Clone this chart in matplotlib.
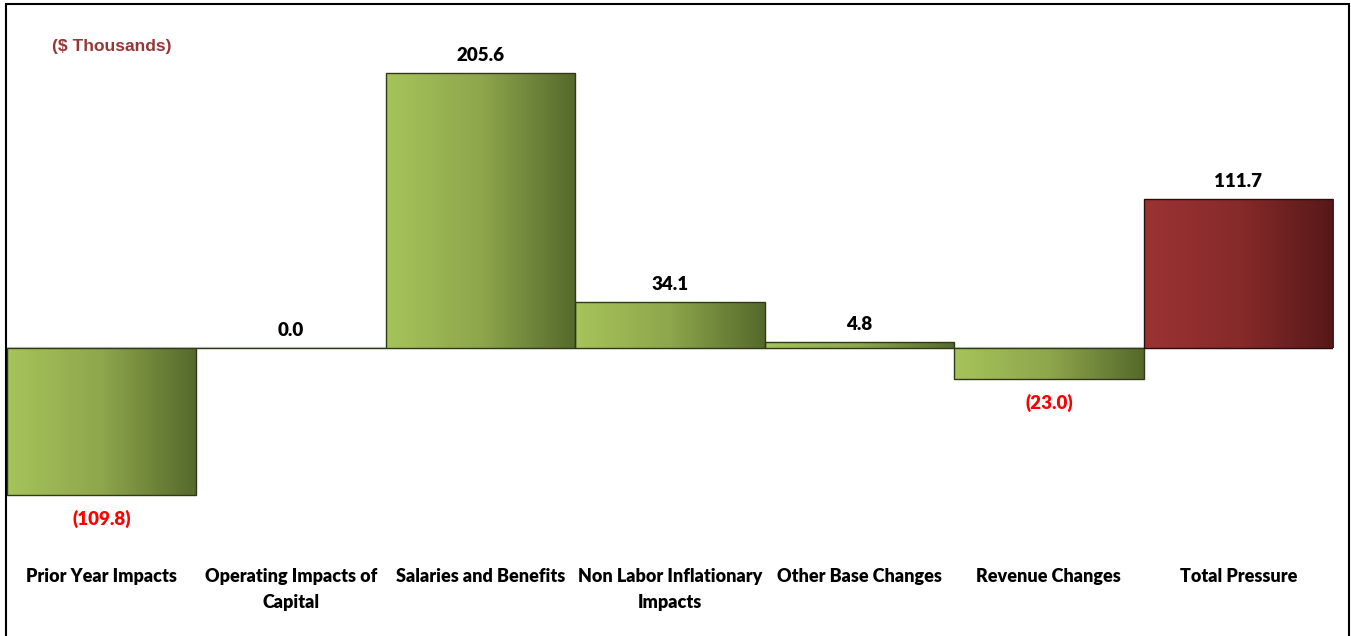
import matplotlib
matplotlib.use('Agg')
import matplotlib.pyplot as plt
import numpy as np
from matplotlib.colors import LinearSegmentedColormap
from matplotlib.patches import Rectangle

# Data
categories = ['Prior Year Impacts', 'Operating Impacts of\nCapital', 'Salaries and Benefits',
              'Non Labor Inflationary\nImpacts', 'Other Base Changes', 'Revenue Changes',
              'Total Pressure']
values = [-109.8, 0.0, 205.6, 34.1, 4.8, -23.0, 111.7]
is_total = [False, False, False, False, False, False, True]

plt.rcParams['font.family'] = ['Lato', 'DejaVu Sans']

green_cmap = LinearSegmentedColormap.from_list('g', ['#a6c45a', '#8ea64c', '#55692b'])
red_cmap = LinearSegmentedColormap.from_list('r', ['#9c3333', '#872a2a', '#571818'])

W, H = 1351, 636
fig = plt.figure(figsize=(W / 100, H / 100), dpi=100)
ax = fig.add_axes([7 / W, 76 / H, 1326 / W, 540 / H])

x = np.arange(len(categories))

# zero line
ax.axhline(0, color='#d0d0d0', linewidth=1.6, zorder=1)

bars = ax.bar(x, values, width=1.0, facecolor='none', edgecolor='#2f3a18',
              linewidth=1.0, zorder=3)

grad = np.linspace(0, 1, 256).reshape(1, -1)
for b, v, tot in zip(bars, values, is_total):
    if v == 0:
        continue
    x0 = b.get_x()
    x1 = x0 + b.get_width()
    y0, y1 = sorted([0, v])
    im = ax.imshow(grad, cmap=red_cmap if tot else green_cmap, aspect='auto',
                   extent=(x0, x1, y0, y1), zorder=2, interpolation='bilinear')
    im.set_clip_path(b)
    if tot:
        b.set_edgecolor('#2a0d0d')

ax.set_xlim(-0.5, len(categories) - 0.5)
ax.set_ylim(-158.4, 245.1)

# value labels
for xi, v in zip(x, values):
    if v < 0:
        ax.annotate(f'({abs(v):.1f})', (xi, v), xytext=(0, -15), textcoords='offset pixels',
                    ha='center', va='top', fontsize=13.5, fontweight='heavy', color='#ff0000')
    else:
        ax.annotate(f'{v:.1f}', (xi, v), xytext=(0, 9), textcoords='offset pixels',
                    ha='center', va='bottom', fontsize=13.5, fontweight='heavy', color='black')

ax.set_xticks(x)
ax.set_xticklabels(categories, fontsize=13, fontweight='heavy', linespacing=1.6)
ax.tick_params(axis='x', length=0, pad=6)
ax.set_yticks([])
for s in ax.spines.values():
    s.set_visible(False)

fig.text(52 / W, 1 - 47 / H, '($ Thousands)', ha='left', va='center', fontsize=12.5,
         fontweight='bold', color='#953735',
         family=['Liberation Sans Narrow', 'Liberation Sans'])

# outer border
fig.patches.append(Rectangle((6 / W, -0.05), 1343 / W, 1.05 - 4 / H, transform=fig.transFigure,
                             fill=False, edgecolor='black', linewidth=1.5))

fig.savefig('out.png', dpi=100)
